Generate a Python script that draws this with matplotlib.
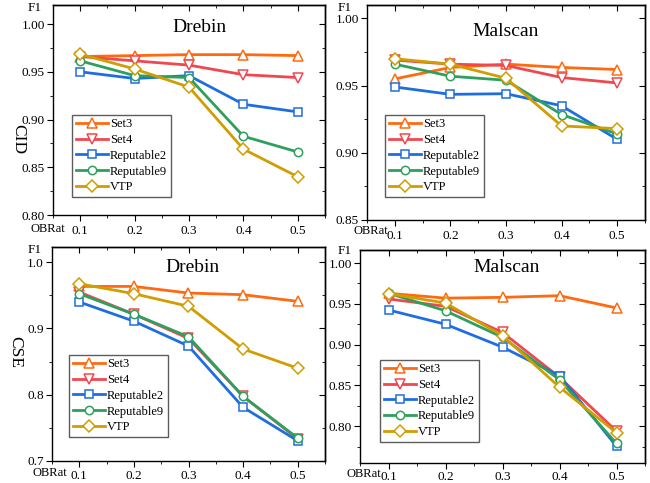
import matplotlib
matplotlib.use('Agg')
import matplotlib.pyplot as plt
from matplotlib.ticker import MultipleLocator, FormatStrFormatter


# ── data ──────────────────────────────────────────────────────────────────────

OBRAT = [0.1, 0.2, 0.3, 0.4, 0.5]
SERIES = ['Set3', 'Set4', 'Reputable2', 'Reputable9', 'VTP']

CID_DREBIN = {
    'Set3':       [0.966, 0.967, 0.968, 0.968, 0.967],
    'Set4':       [0.966, 0.9615, 0.957, 0.947, 0.944],
    'Reputable2': [0.950, 0.943, 0.946, 0.916, 0.908],
    'Reputable9': [0.9615, 0.946, 0.944, 0.8825, 0.866],
    'VTP':        [0.9685, 0.953, 0.934, 0.869, 0.840],
}
CID_MALSCAN = {
    'Set3':       [0.955, 0.9635, 0.966, 0.9635, 0.962],
    'Set4':       [0.969, 0.966, 0.965, 0.956, 0.952],
    'Reputable2': [0.949, 0.9435, 0.944, 0.935, 0.910],
    'Reputable9': [0.966, 0.957, 0.954, 0.9285, 0.914],
    'VTP':        [0.970, 0.966, 0.9555, 0.920, 0.918],
}
CSE_DREBIN = {
    'Set3':       [0.9635, 0.9635, 0.9535, 0.951, 0.941],
    'Set4':       [0.955, 0.9215, 0.885, 0.7975, 0.7335],
    'Reputable2': [0.940, 0.911, 0.8735, 0.781, 0.7305],
    'Reputable9': [0.9525, 0.9215, 0.8875, 0.7975, 0.7345],
    'VTP':        [0.9675, 0.9525, 0.9335, 0.869, 0.840],
}
CSE_MALSCAN = {
    'Set3':       [0.963, 0.957, 0.958, 0.960, 0.945],
    'Set4':       [0.956, 0.947, 0.915, 0.860, 0.794],
    'Reputable2': [0.9425, 0.925, 0.897, 0.862, 0.7755],
    'Reputable9': [0.963, 0.9415, 0.909, 0.857, 0.779],
    'VTP':        [0.9625, 0.951, 0.911, 0.848, 0.792],
}


# ── style ─────────────────────────────────────────────────────────────────────

W, H = 650, 483

COLORS = {
    'Set3':       '#ff6a10',
    'Set4':       '#f04850',
    'Reputable2': '#1f6ee0',
    'Reputable9': '#2ea05e',
    'VTP':        '#d09e00',
}
MARKERS = {'Set3': '^', 'Set4': 'v', 'Reputable2': 's', 'Reputable9': 'o', 'VTP': 'D'}
MSIZE = {'Set3': 7, 'Set4': 7, 'Reputable2': 5.5, 'Reputable9': 6, 'VTP': 6}

plt.rcParams.update({
    'font.family': 'Liberation Serif',
    'font.size': 9,
    'axes.linewidth': 1.0,
})


def px(x, y):
    """pixel position (from top-left) -> figure fraction"""
    return x / W, 1 - y / H


def ticks(axis_obj, maj):
    axis_obj.set_major_locator(MultipleLocator(maj))
    axis_obj.set_minor_locator(MultipleLocator(maj / 2))


def draw_panel(fig, box, data, title, title_xy, ylim, ymaj, yfmt, leg_xy,
               f1_xy, obr_xy, xpad=3.5, ylabel=None, ylabel_xy=None):
    l, t, r, b = box
    ax = fig.add_axes([l / W, 1 - b / H, (r - l) / W, (b - t) / H])
    for name in SERIES:
        ax.plot(OBRAT, data[name], color=COLORS[name], lw=2, marker=MARKERS[name],
                ms=MSIZE[name], mfc='white', mec=COLORS[name], mew=1.1, label=name)
    ax.set_xlim(0.05, 0.55)
    ax.set_ylim(*ylim)
    ticks(ax.xaxis, 0.1)
    ticks(ax.yaxis, ymaj)
    ax.xaxis.set_major_formatter(FormatStrFormatter('%.1f'))
    ax.yaxis.set_major_formatter(FormatStrFormatter(yfmt))
    ax.tick_params(which='both', direction='out', labelsize=9.5, pad=2)
    ax.tick_params(axis='x', pad=xpad)
    ax.tick_params(which='major', length=4)
    ax.tick_params(which='minor', length=2.5)

    # mirrored inward ticks on top and right
    sec_x = ax.secondary_xaxis('top')
    ticks(sec_x.xaxis, 0.1)
    sec_y = ax.secondary_yaxis('right')
    ticks(sec_y.yaxis, ymaj)
    for sec in (sec_x, sec_y):
        sec.tick_params(which='both', direction='in', labeltop=False, labelright=False)
        sec.tick_params(which='major', length=4)
        sec.tick_params(which='minor', length=2.5)

    fig.text(*px(*title_xy), title, ha='center', va='center', fontsize=14)
    fig.text(*px(*f1_xy), 'F1', ha='right', va='center', fontsize=9.5)
    fig.text(*px(*obr_xy), 'OBRat', ha='right', va='center', fontsize=9)
    if ylabel:
        fig.text(*px(*ylabel_xy), ylabel, rotation=270, ha='center', va='center', fontsize=12.5)

    lx, ly = leg_xy
    leg = ax.legend(loc='lower left', bbox_to_anchor=((lx - l) / (r - l), (b - ly) / (b - t)),
                    borderaxespad=0, fontsize=9, frameon=True, fancybox=False,
                    edgecolor='#333333', handlelength=2.6, handletextpad=0.15,
                    labelspacing=0.3, borderpad=0.3)
    leg.get_frame().set_linewidth(1.0)
    return ax


fig = plt.figure(figsize=(W / 100, H / 100), dpi=100)

draw_panel(fig, (53, 5, 325, 215), CID_DREBIN, 'Drebin', (199, 28),
           (0.80, 1.02), 0.05, '%.2f', (72, 197), (42, 8), (65, 229),
           ylabel='CID', ylabel_xy=(18, 139))
draw_panel(fig, (367, 5, 645, 220), CID_MALSCAN, 'Malscan', (506, 32),
           (0.85, 1.01), 0.05, '%.2f', (385, 197), (352, 8), (388, 231))
draw_panel(fig, (52, 247, 325, 461), CSE_DREBIN, 'Drebin', (192, 267),
           (0.70, 1.023), 0.1, '%.1f', (69, 437), (42, 250), (67, 473), xpad=2.5,
           ylabel='CSE', ylabel_xy=(15, 352))
draw_panel(fig, (360, 250, 645, 463), CSE_MALSCAN, 'Malscan', (507, 268),
           (0.755, 1.016), 0.05, '%.2f', (380, 442), (352, 251), (381, 474), xpad=2)

fig.savefig('out.png', dpi=100)
